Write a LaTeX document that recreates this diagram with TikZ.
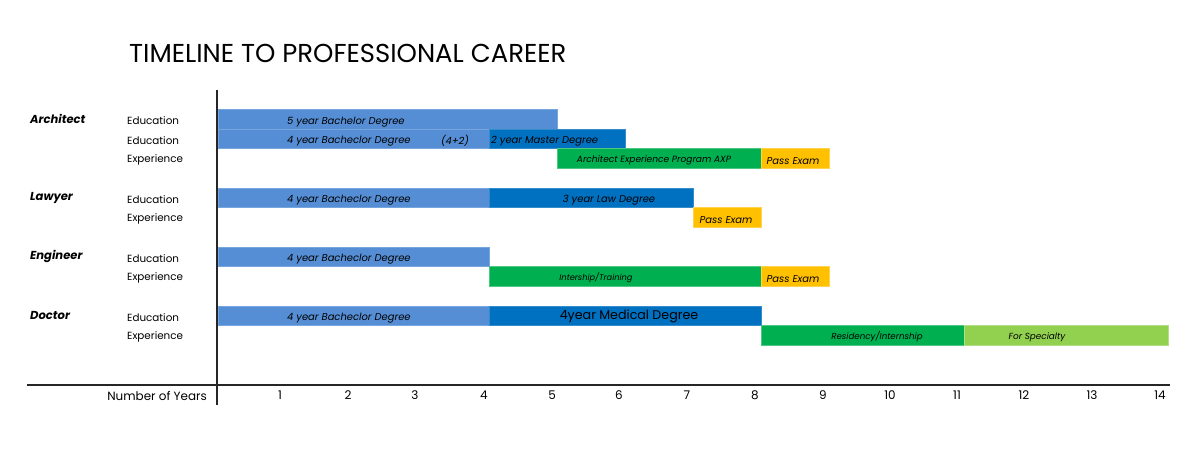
\documentclass[tikz,border=0pt]{standalone}
\usepackage{fontspec}
\setmainfont{Poppins}
\definecolor{lblue}{RGB}{85,142,213}
\definecolor{dblue}{RGB}{0,112,192}
\definecolor{cgreen}{RGB}{0,176,80}
\definecolor{cyellow}{RGB}{255,192,0}
\definecolor{lgreen}{RGB}{146,208,80}
\tikzset{
  lb/.style={fill=lblue,draw=lblue!80!white,line width=0.4bp},
  db/.style={fill=dblue,draw=dblue!80!white,line width=0.4bp},
  gb/.style={fill=cgreen,draw=cgreen!70!white,line width=0.4bp},
  yb/.style={fill=cyellow,draw=cyellow!70!white,line width=0.4bp},
  lg/.style={fill=lgreen,draw=lgreen!70!white,line width=0.4bp},
  prof/.style={anchor=west,inner sep=0pt,yshift=0.5bp,font=\fontsize{11.6}{13}\selectfont\bfseries\itshape},
  kind/.style={anchor=west,inner sep=0pt,yshift=-1.2bp,font=\fontsize{10.4}{12}\selectfont},
  bt/.style={inner sep=0pt,yshift=-2.2bp,font=\fontsize{10}{12}\selectfont\itshape},
  bts/.style={inner sep=0pt,yshift=-1.5bp,font=\fontsize{8.6}{10}\selectfont\itshape},
  yr/.style={inner sep=0pt,yshift=-0.5bp,font=\fontsize{12}{14}\selectfont},
  axis/.style={line width=2bp,black!85}
}
\begin{document}
\begin{tikzpicture}[x=1bp,y=-1bp]
\useasboundingbox (0,0) rectangle (1200,464);
\def\U{67.86}
\def\H{19.5}
% title
\node[anchor=west,inner sep=0pt,font=\fontsize{26}{30}\selectfont] (title) at (129,53) {TIMELINE TO PROFESSIONAL CAREER};
% axes
\draw[axis] (217,90) -- (217,405);
\draw[axis] (27,385) -- (1170,385);
% bars: Architect
\path[lb] (218,109.5) rectangle ++({5*\U},\H);
\path[lb] (218,129) rectangle ++({4*\U},\H);
\path[db] ({218+4*\U},129) rectangle ++({2*\U},\H);
\path[gb] ({218+5*\U},148.5) rectangle ++({3*\U},\H);
\path[yb] ({218+8*\U},148.5) rectangle ++({1*\U},\H);
% Lawyer
\path[lb] (218,188) rectangle ++({4*\U},\H);
\path[db] ({218+4*\U},188) rectangle ++({3*\U},\H);
\path[yb] ({218+7*\U},207.5) rectangle ++({1*\U},\H);
% Engineer
\path[lb] (218,247) rectangle ++({4*\U},\H);
\path[gb] ({218+4*\U},266.5) rectangle ++({4*\U},\H);
\path[yb] ({218+8*\U},266.5) rectangle ++({1*\U},\H);
% Doctor
\path[lb] (218,306) rectangle ++({4*\U},\H);
\path[db] ({218+4*\U},306) rectangle ++({4*\U},\H);
\path[gb] ({218+8*\U},325.5) rectangle ++({3*\U},\H);
\path[lg] ({218+11*\U},325.5) rectangle ++({3*\U},\H);
% row labels
\node[prof] (pA) at (30,119.5) {Architect};
\node[prof] (pL) at (30,198) {Lawyer};
\node[prof] (pE) at (30,257) {Engineer};
\node[prof] (pD) at (30,316) {Doctor};
\node[kind] (k1) at (127,119.5) {Education};
\node[kind] (k2) at (127,139) {Education};
\node[kind] (k3) at (127,158.5) {Experience};
\node[kind] (k4) at (127,198) {Education};
\node[kind] (k5) at (127,217.5) {Experience};
\node[kind] (k6) at (127,257) {Education};
\node[kind] (k7) at (127,276.5) {Experience};
\node[kind] (k8) at (127,316) {Education};
\node[kind] (k9) at (127,335.5) {Experience};
% bar texts
\node[bt,anchor=west] (t1) at (287,119.5) {5 year Bachelor Degree};
\node[bt,anchor=west] (t2) at (287,139) {4 year Bacheclor Degree};
\node[bt] (t2b) at (455,139) {(4+2)};
\node[bt,anchor=west] (t3) at (491,139) {2 year Master Degree};
\node[bts,font=\fontsize{9.1}{11}\selectfont\itshape] (t4) at (654,158.5) {Architect Experience Program AXP};
\node[bt] (t5) at (793,158.5) {Pass Exam};
\node[bt,anchor=west] (t6) at (287,198) {4 year Bacheclor Degree};
\node[bt] (t7) at (609,198) {3 year Law Degree};
\node[bt] (t8) at (726,217.5) {Pass Exam};
\node[bt,anchor=west] (t9) at (287,257) {4 year Bacheclor Degree};
\node[bts,font=\fontsize{8.3}{10}\selectfont\itshape] (t10) at (596,276.5) {Intership/Training};
\node[bt] (t11) at (793,276.5) {Pass Exam};
\node[bt,anchor=west] (t12) at (287,316) {4 year Bacheclor Degree};
\node[inner sep=0pt,yshift=-1bp,font=\fontsize{12.7}{15}\selectfont] (t13) at (629,315.5) {4year Medical Degree};
\node[bts,font=\fontsize{8.7}{10}\selectfont\itshape] (t14) at (877,335.5) {Residency/Internship};
\node[bts,font=\fontsize{8.9}{10}\selectfont\itshape] (t15) at (1037,335.5) {For Specialty};
% axis labels
\node[yr,anchor=east] (ny) at (207,395) {Number of Years};
\foreach \n/\xx in {1/280,2/348,3/415,4/484,5/552,6/619,7/687,8/755,9/823,10/890,11/957,12/1024,13/1092,14/1160}
  \node[yr] (y\n) at (\xx,395) {\n};
\end{tikzpicture}
\end{document}
